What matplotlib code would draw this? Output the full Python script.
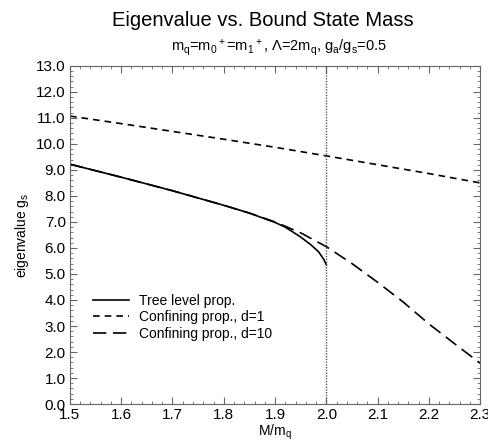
import matplotlib
matplotlib.use('Agg')
import matplotlib.pyplot as plt
import numpy as np
from matplotlib.ticker import MultipleLocator, FormatStrFormatter

plt.rcParams['font.family'] = ['Liberation Sans', 'DejaVu Sans']
plt.rcParams['mathtext.fontset'] = 'custom'
plt.rcParams['mathtext.rm'] = 'Liberation Sans'
plt.rcParams['mathtext.it'] = 'Liberation Sans'

# Tree level propagator (ends at threshold M = 2 m_q)
tree_M = [1.5, 1.6, 1.7, 1.8, 1.85, 1.9, 1.92, 1.95, 1.97, 1.985, 1.995, 2.0]
tree_g = [9.22, 8.72, 8.20, 7.64, 7.34, 6.98, 6.80, 6.42, 6.12, 5.85, 5.56, 5.35]

# Confining propagator, d=1
d1_M = [1.5, 1.6, 1.7, 1.8, 1.9, 2.0, 2.1, 2.2, 2.3]
d1_g = [11.07, 10.78, 10.48, 10.18, 9.87, 9.54, 9.20, 8.86, 8.50]

# Confining propagator, d=10
d10_M = [1.5, 1.6, 1.7, 1.8, 1.85, 1.9, 1.95, 2.0, 2.05, 2.1, 2.15, 2.2, 2.25, 2.3]
d10_g = [9.22, 8.72, 8.20, 7.64, 7.34, 7.00, 6.58, 6.05, 5.40, 4.68, 3.92, 3.08, 2.32, 1.57]

threshold = 2.0

fig = plt.figure(figsize=(4.89, 4.45), dpi=100)
ax = fig.add_axes([0.143, 0.092, 0.839, 0.760])

ax.plot(tree_M, tree_g, color='black', lw=1.2, label='Tree level prop.')
ax.plot(d1_M, d1_g, color='black', lw=1.2, linestyle=(0, (4, 3)),
        label='Confining prop., d=1')
ax.plot(d10_M, d10_g, color='black', lw=1.2, linestyle=(0, (8, 4)),
        label='Confining prop., d=10')
ax.axvline(threshold, color='#555555', lw=1.0, linestyle=(0, (1, 1)))

ax.set_xlim(1.5, 2.3)
ax.set_ylim(0, 13)
ax.xaxis.set_major_locator(MultipleLocator(0.1))
ax.xaxis.set_minor_locator(MultipleLocator(0.02))
ax.yaxis.set_major_locator(MultipleLocator(1.0))
ax.yaxis.set_minor_locator(MultipleLocator(0.2))
ax.xaxis.set_major_formatter(FormatStrFormatter('%.1f'))
ax.yaxis.set_major_formatter(FormatStrFormatter('%.1f'))
ax.tick_params(which='both', direction='in', top=True, right=True,
               labelsize=11, color='#666666')
ax.tick_params(which='major', length=5, pad=3)
ax.tick_params(which='minor', length=2.5)
for s in ax.spines.values():
    s.set_color('#666666')
    s.set_linewidth(0.8)

ax.set_xlabel(r'M/m$_q$', fontsize=10, labelpad=0)
ax.set_ylabel(r'eigenvalue g$_s$', fontsize=10, labelpad=4)

fig.text(0.538, 0.953, 'Eigenvalue vs. Bound State Mass', fontsize=14.5,
         ha='center', va='center')
fig.text(0.57, 0.893,
         r'm$_q$=m$_0$$^+$=m$_1$$^+$, $\Lambda$=2m$_q$, g$_a$/g$_s$=0.5',
         fontsize=10.5, ha='center', va='center')

ax.legend(loc='lower left', bbox_to_anchor=(0.025, 0.15), frameon=False,
          fontsize=10, handlelength=2.6, labelspacing=0.18, handletextpad=0.7)

fig.savefig('out.png', dpi=100)
